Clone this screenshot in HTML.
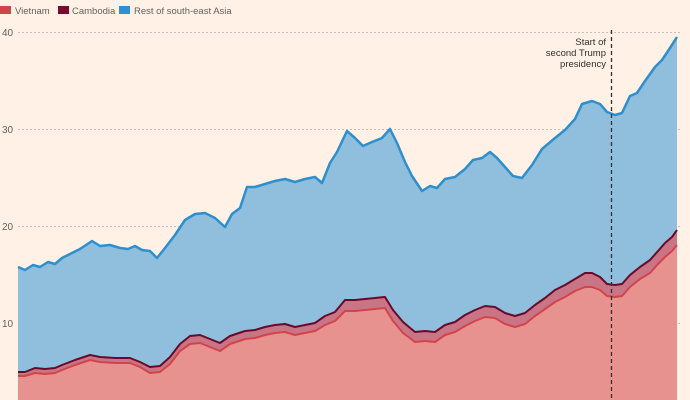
<!DOCTYPE html><html><head><style>body{margin:0;background:#fff1e5}svg{display:block;font-family:"Liberation Sans",sans-serif}</style></head><body>
<svg width="690" height="400" viewBox="0 0 690 400">
<rect width="690" height="400" fill="#fff1e5"/>
<rect x="0" y="6" width="11" height="8" fill="#d0454c"/><text x="15" y="14" font-size="9.5" fill="#66605c">Vietnam</text>
<rect x="58" y="6" width="11" height="8" fill="#7a0a30"/><text x="72" y="14" font-size="9.5" fill="#66605c">Cambodia</text>
<rect x="119" y="6" width="11" height="8" fill="#2f8fd0"/><text x="134" y="14" font-size="9.5" fill="#66605c">Rest of south-east Asia</text>
<g stroke="#c8c0b8" stroke-dasharray="2,2" stroke-width="1"><line x1="18" y1="32.5" x2="680" y2="32.5"/><line x1="18" y1="129.5" x2="680" y2="129.5"/><line x1="18" y1="226.5" x2="680" y2="226.5"/><line x1="18" y1="323.5" x2="680" y2="323.5"/></g>
<g font-size="10" fill="#66605c"><text x="2" y="36">40</text><text x="2" y="133">30</text><text x="2" y="230">20</text><text x="2" y="327">10</text></g>
<path fill="#8fbfdc" d="M18,400 L18,267 25,270 33,265 40,267 48,262 55,264 62,258 70,254 80,249 92,241 100,246 110,245 120,248 128,249 135,246 142,250 150,251 157,258 165,248 175,235 185,220 195,214 205,213 215,218 225,227 232,214 240,208 247,187 255,187 265,184 275,181 285,179 295,182 305,179 315,177 322,183 330,163 337,152 347,131 355,138 363,146 372,142 382,138 390,129 397,143 405,162 412,176 422,191 430,186 437,188 445,179 455,177 465,169 473,160 482,158 490,152 497,158 505,167 513,176 522,178 532,165 542,149 555,138 565,130 575,119 582,104 592,101 600,104 607,112 615,115 622,113 630,96 637,93 645,81 655,67 662,60 670,48 677,37 L677,400 Z"/>
<path fill="none" stroke="#2f8fcc" stroke-width="2.5" stroke-linejoin="round" d="M18,267 25,270 33,265 40,267 48,262 55,264 62,258 70,254 80,249 92,241 100,246 110,245 120,248 128,249 135,246 142,250 150,251 157,258 165,248 175,235 185,220 195,214 205,213 215,218 225,227 232,214 240,208 247,187 255,187 265,184 275,181 285,179 295,182 305,179 315,177 322,183 330,163 337,152 347,131 355,138 363,146 372,142 382,138 390,129 397,143 405,162 412,176 422,191 430,186 437,188 445,179 455,177 465,169 473,160 482,158 490,152 497,158 505,167 513,176 522,178 532,165 542,149 555,138 565,130 575,119 582,104 592,101 600,104 607,112 615,115 622,113 630,96 637,93 645,81 655,67 662,60 670,48 677,37"/>
<path fill="#c97585" d="M18,400 L18,372 25,372 35,368 45,369 55,368 62,365 75,360 90,355 100,357 115,358 130,358 140,362 150,367 160,366 170,357 180,344 190,336 200,335 210,339 220,343 230,336 245,331 255,330 265,327 275,325 285,324 295,327 305,325 315,323 325,316 335,312 345,300 355,300 365,299 375,298 385,297 393,310 403,322 415,332 425,331 435,332 445,325 455,322 465,315 475,310 485,306 495,307 505,313 515,316 525,313 535,305 545,298 555,290 565,285 575,279 585,273 592,273 600,277 607,284 615,285 622,284 630,275 640,267 650,260 658,251 665,243 672,237 677,230 L677,400 Z"/>
<path fill="none" stroke="#6a0a2a" stroke-width="2" stroke-linejoin="round" d="M18,372 25,372 35,368 45,369 55,368 62,365 75,360 90,355 100,357 115,358 130,358 140,362 150,367 160,366 170,357 180,344 190,336 200,335 210,339 220,343 230,336 245,331 255,330 265,327 275,325 285,324 295,327 305,325 315,323 325,316 335,312 345,300 355,300 365,299 375,298 385,297 393,310 403,322 415,332 425,331 435,332 445,325 455,322 465,315 475,310 485,306 495,307 505,313 515,316 525,313 535,305 545,298 555,290 565,285 575,279 585,273 592,273 600,277 607,284 615,285 622,284 630,275 640,267 650,260 658,251 665,243 672,237 677,230"/>
<path fill="#e8928f" d="M18,400 L18,376 25,376 35,373 45,374 55,373 62,370 75,365 90,360 100,362 115,363 130,363 140,367 150,373 160,372 170,364 180,351 190,344 200,343 210,347 220,351 230,344 245,339 255,338 265,335 275,333 285,332 295,335 305,333 315,331 325,325 335,321 345,311 355,311 365,310 375,309 385,308 393,321 403,333 415,342 425,341 435,342 445,335 455,332 465,326 475,321 485,317 495,318 505,324 515,327 525,324 535,316 545,309 555,302 565,297 575,291 585,287 592,287 600,290 607,296 615,297 622,296 630,287 640,279 650,273 658,264 665,257 672,251 677,245 L677,400 Z"/>
<path fill="none" stroke="#d0454c" stroke-width="2" stroke-linejoin="round" d="M18,376 25,376 35,373 45,374 55,373 62,370 75,365 90,360 100,362 115,363 130,363 140,367 150,373 160,372 170,364 180,351 190,344 200,343 210,347 220,351 230,344 245,339 255,338 265,335 275,333 285,332 295,335 305,333 315,331 325,325 335,321 345,311 355,311 365,310 375,309 385,308 393,321 403,333 415,342 425,341 435,342 445,335 455,332 465,326 475,321 485,317 495,318 505,324 515,327 525,324 535,316 545,309 555,302 565,297 575,291 585,287 592,287 600,290 607,296 615,297 622,296 630,287 640,279 650,273 658,264 665,257 672,251 677,245"/>
<line x1="611.5" y1="30" x2="611.5" y2="400" stroke="#33302e" stroke-width="1.3" stroke-dasharray="4,3"/>
<g font-size="9.5" fill="#33302e" text-anchor="end"><text x="606" y="45">Start of</text><text x="606" y="56">second Trump</text><text x="606" y="67">presidency</text></g>
</svg></body></html>
